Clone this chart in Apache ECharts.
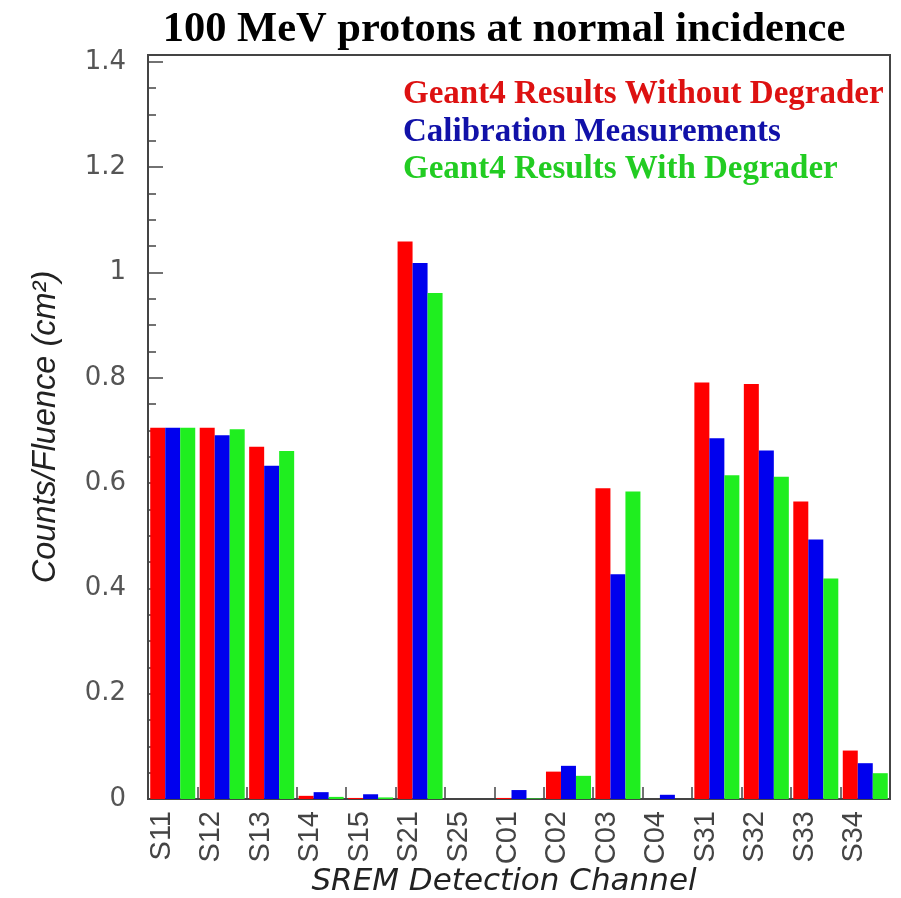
<!DOCTYPE html>
<html>
<head>
<meta charset="utf-8">
<title>100 MeV protons at normal incidence</title>
<script src="https://cdn.jsdelivr.net/npm/echarts@6/dist/echarts.min.js"></script>
<style>
  html, body { margin: 0; padding: 0; background: #ffffff; }
  #chart { width: 901px; height: 898px; }
</style>
</head>
<body>
<div id="chart"></div>
<script>
// SREM detection channels
const channels = ['S11', 'S12', 'S13', 'S14', 'S15', 'S21', 'S25', 'C01', 'C02', 'C03', 'C04', 'S31', 'S32', 'S33', 'S34'];

// Counts per unit fluence (cm^2) for each channel
const geant4NoDegrader = [0.705, 0.705, 0.669, 0.006, 0.002, 1.059, 0.000, 0.002, 0.052, 0.590, 0.000, 0.791, 0.788, 0.565, 0.092];
const calibration      = [0.705, 0.691, 0.633, 0.013, 0.009, 1.018, 0.000, 0.017, 0.063, 0.427, 0.008, 0.685, 0.662, 0.493, 0.068];
const geant4Degrader   = [0.705, 0.702, 0.661, 0.004, 0.003, 0.961, 0.000, 0.001, 0.044, 0.584, 0.000, 0.615, 0.612, 0.419, 0.049];

const seriesNames = [
  'Geant4 Results Without Degrader',
  'Calibration Measurements',
  'Geant4 Results With Degrader'
];
const barColors  = ['#ff0000', '#0000ee', '#1fee1f'];
const textColors = ['#dd1111', '#1111a8', '#22cc22'];

const chart = echarts.init(document.getElementById('chart'), null, { renderer: 'canvas' });

const axisInk = '#444444';
const sans = 'Liberation Sans';

function barSeries(i, values) {
  return {
    name: seriesNames[i],
    type: 'bar',
    data: values,
    xAxisIndex: 0,
    yAxisIndex: 0,
    barWidth: 15,
    barGap: '0%',
    itemStyle: { color: barColors[i] },
    emphasis: { disabled: true },
    animation: false
  };
}

chart.setOption({
  backgroundColor: '#ffffff',
  animation: false,
  title: {
    text: '100 MeV protons at normal incidence',
    left: 499,
    top: 4,
    textAlign: 'center',
    textStyle: {
      fontFamily: 'Liberation Serif',
      fontWeight: 'bold',
      fontSize: 42.5,
      color: '#000000'
    }
  },
  legend: {
    orient: 'vertical',
    left: 393,
    top: 71,
    itemWidth: 0,
    itemHeight: 0,
    itemGap: 0,
    selectedMode: false,
    data: seriesNames.map((n, i) => ({
      name: n,
      textStyle: { color: textColors[i] }
    })),
    textStyle: {
      fontFamily: 'Liberation Serif',
      fontWeight: 'bold',
      fontSize: 33,
      lineHeight: 37.5
    }
  },
  grid: {
    left: 148,
    right: 11,
    top: 55,
    bottom: 99,
    containLabel: false,
    outerBoundsMode: 'none',
    show: true,
    borderColor: axisInk,
    borderWidth: 2,
    backgroundColor: '#ffffff'
  },
  xAxis: {
    type: 'category',
    data: channels,
    boundaryGap: true,
    name: 'SREM Detection Channel',
    nameLocation: 'middle',
    nameGap: 67,
    nameMoveOverlap: false,
    nameTextStyle: {
      fontFamily: 'DejaVu Sans',
      fontStyle: 'italic',
      fontSize: 31,
      color: '#222222',
      padding: [0, 30, 0, 0]
    },
    axisLine: { show: true, lineStyle: { color: axisInk, width: 2 } },
    axisTick: {
      show: true,
      inside: true,
      length: 12,
      interval: 0,
      lineStyle: { color: axisInk, width: 1.5 }
    },
    axisLabel: {
      rotate: 90,
      interval: 0,
      margin: 12,
      fontFamily: sans,
      fontSize: 29,
      color: '#444444',
      verticalAlign: 'bottom',
      lineHeight: 22
    },
    splitLine: { show: false }
  },
  yAxis: [
    {
      type: 'value',
      min: 0,
      max: 1.413,
      interval: 0.2,
      position: 'left',
      name: 'Counts/Fluence (cm²)',
      nameLocation: 'middle',
      nameGap: 86,
      nameMoveOverlap: false,
      nameTextStyle: {
        fontFamily: sans,
        fontStyle: 'italic',
        fontSize: 32.5,
        color: '#222222'
      },
      axisLine: { show: true, lineStyle: { color: axisInk, width: 2 } },
      axisTick: {
        show: true,
        inside: true,
        length: 15,
        lineStyle: { color: axisInk, width: 1.5 }
      },
      axisLabel: {
        showMaxLabel: false,
        margin: 22,
        fontFamily: 'DejaVu Sans',
        fontSize: 26,
        color: '#555555',
        formatter: v => String(Math.round(v * 10) / 10)
      },
      splitLine: { show: false }
    },
    {
      // minor ticks every 0.05
      type: 'value',
      min: 0,
      max: 1.413,
      interval: 0.05,
      position: 'left',
      axisLine: { show: false },
      axisTick: {
        show: true,
        inside: true,
        length: 8,
        lineStyle: { color: axisInk, width: 1.5 }
      },
      axisLabel: { show: false },
      splitLine: { show: false }
    }
  ],
  series: [
    barSeries(0, geant4NoDegrader),
    barSeries(1, calibration),
    barSeries(2, geant4Degrader)
  ]
});
</script>
</body>
</html>
